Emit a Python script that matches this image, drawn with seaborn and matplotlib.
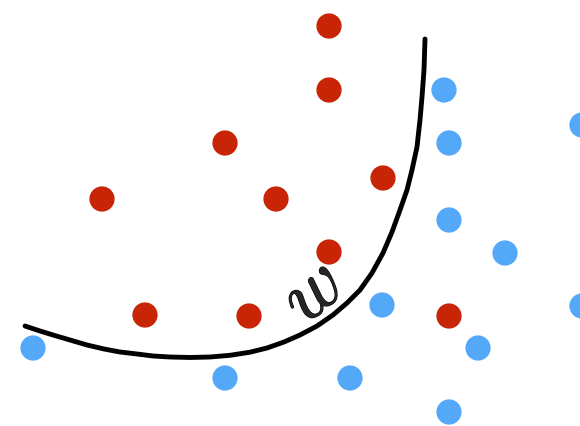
import pandas as pd
import matplotlib.pyplot as plt
import matplotlib.patheffects as pe
import seaborn as sns

sns.set_style('white')
plt.rcParams['mathtext.fontset'] = 'cm'

# 點位置(像素座標)
red_x = [329, 329, 225, 102, 276, 383, 329, 145, 249, 449]
red_y = [26, 90, 143, 199, 199, 178, 252, 315, 316, 316]
blue_x = [444, 449, 582, 449, 505, 582, 382, 33, 478, 225, 350, 449]
blue_y = [90, 143, 125, 220, 253, 306, 305, 348, 348, 378, 378, 412]

# 分界曲線 w
curve_x = [25, 40, 53, 70, 87, 104, 120, 137, 153, 170, 190, 210, 230, 250, 267, 284,
           300, 317, 333, 347, 360, 372, 383, 392, 400, 407, 412, 417, 420, 422, 424, 425]
curve_y = [326, 331, 335, 340, 345, 349, 352, 354, 356, 357, 357.5, 357, 355.3, 352.2, 348, 342,
           335, 326, 315, 303, 290, 273, 253, 232, 210, 190, 170, 147, 120, 97, 70, 39]

pts = pd.DataFrame({
    'x': red_x + blue_x,
    'y': red_y + blue_y,
    'cls': ['red'] * len(red_x) + ['blue'] * len(blue_x),
})
curve = pd.DataFrame({'x': curve_x, 'y': curve_y})

fig = plt.figure(figsize=(5.8, 4.27), dpi=100)
ax = fig.add_axes([0, 0, 1, 1])

sns.lineplot(data=curve, x='x', y='y', sort=False, color='black', linewidth=3.5, ax=ax)
sns.scatterplot(data=pts, x='x', y='y', hue='cls',
                palette={'red': '#C82506', 'blue': '#54A8F8'},
                s=330, linewidth=0, legend=False, ax=ax, zorder=3)

ax.text(312, 292, '$w$', fontsize=56, rotation=40, ha='center', va='center',
        path_effects=[pe.withStroke(linewidth=0.8, foreground='black')])

ax.set_xlim(0, 580)
ax.set_ylim(426, -1)
ax.set_axis_off()

fig.savefig('out.png', dpi=100)
